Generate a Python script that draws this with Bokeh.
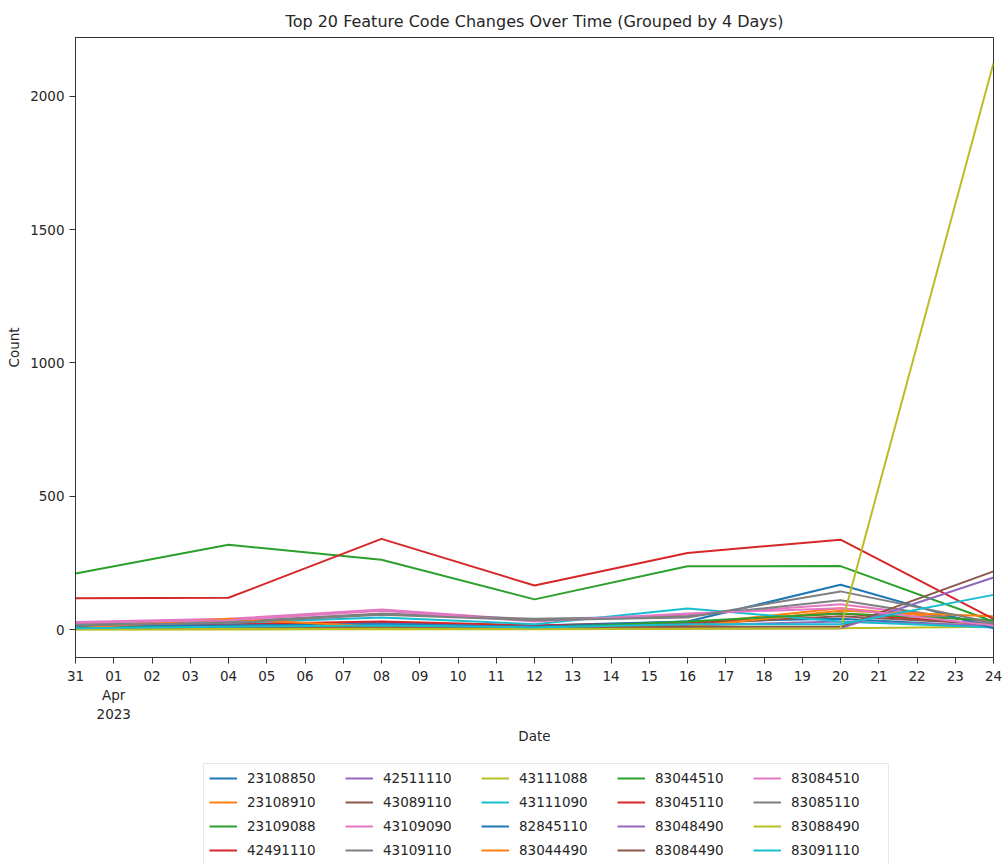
import pandas as pd
from bokeh.plotting import figure
from bokeh.layouts import column
from bokeh.models import Legend, LegendItem, FixedTicker, Range1d
from bokeh.embed import file_html
from bokeh.resources import INLINE

dates = ["2023-03-31", "2023-04-04", "2023-04-08", "2023-04-12", "2023-04-16", "2023-04-20", "2023-04-24"]

codes = ["23108850", "23108910", "23109088", "42491110", "42511110",
         "43089110", "43109090", "43109110", "43111088", "43111090",
         "82845110", "83044490", "83044510", "83045110", "83048490",
         "83084490", "83084510", "83085110", "83088490", "83091110"]

s23108850 = [15, 20, 25, 15, 30, 40, 10]
s23108910 = [10, 25, 15, 10, 20, 80, 30]
s23109088 = [210, 318, 262, 113, 237, 238, 30]
s42491110 = [20, 20, 30, 15, 25, 60, 20]
s42511110 = [10, 15, 20, 10, 15, 30, 15]
s43089110 = [5, 10, 15, 10, 20, 50, 20]
s43109090 = [28, 40, 75, 35, 55, 95, 25]
s43109110 = [20, 30, 60, 40, 50, 110, 20]
s43111088 = [0, 0, 2, 1, 3, 5, 10]
s43111090 = [15, 25, 45, 20, 79, 30, 8]
s82845110 = [10, 15, 20, 10, 30, 168, 5]
s83044490 = [5, 40, 10, 5, 10, 70, 50]
s83044510 = [5, 10, 10, 5, 30, 60, 35]
s83045110 = [117, 119, 340, 165, 287, 337, 40]
s83048490 = [2, 5, 8, 3, 5, 5, 195]
s83084490 = [3, 5, 10, 5, 10, 10, 218]
s83084510 = [25, 35, 70, 30, 60, 80, 15]
s83085110 = [15, 25, 55, 35, 45, 143, 25]
s83088490 = [1, 2, 3, 2, 3, 5, 2125]
s83091110 = [5, 10, 15, 8, 20, 20, 130]

series = [s23108850, s23108910, s23109088, s42491110, s42511110,
          s43089110, s43109090, s43109110, s43111088, s43111090,
          s82845110, s83044490, s83044510, s83045110, s83048490,
          s83084490, s83084510, s83085110, s83088490, s83091110]

y_ticks = [0, 500, 1000, 1500, 2000]

tab10 = ["#1f77b4", "#ff7f0e", "#2ca02c", "#d62728", "#9467bd",
         "#8c564b", "#e377c2", "#7f7f7f", "#bcbd22", "#17becf"]

FONT = "DejaVu Sans"
TXT = "#262626"
AX = "#333333"

x = pd.to_datetime(dates)
tick_dates = pd.date_range("2023-03-31", "2023-04-24", freq="D")
tick_ms = [float(t.value // 10**6) for t in tick_dates]
tick_labels = [t.strftime("%d") for t in tick_dates]
tick_labels[1] = "01\nApr\n2023"

# ---------------- main chart ----------------
p = figure(width=1003, height=752, x_axis_type="datetime",
           output_backend="svg", toolbar_location=None,
           min_border_left=75, min_border_right=10, min_border_top=37,
           min_border_bottom=95)

p.x_range = Range1d(x[0], x[-1])
p.y_range = Range1d(-105, 2221)

for i, vals in enumerate(series):
    p.line(x, vals, line_color=tab10[i % 10], line_width=2)

p.title.text = "Top 20 Feature Code Changes Over Time (Grouped by 4 Days)"
p.title.align = "center"
p.title.text_font = FONT
p.title.text_font_size = "16px"
p.title.text_font_style = "normal"
p.title.text_color = TXT
p.title.standoff = 13

p.xgrid.visible = False
p.ygrid.visible = False
p.outline_line_color = AX
p.outline_line_width = 1

p.xaxis.ticker = FixedTicker(ticks=tick_ms)
p.xaxis.major_label_overrides = {tm: lab for tm, lab in zip(tick_ms, tick_labels)}
p.xaxis.axis_label = "Date"
p.yaxis.ticker = FixedTicker(ticks=y_ticks)
p.yaxis.axis_label = "Count"

for ax in (p.xaxis[0], p.yaxis[0]):
    ax.axis_label_text_font = FONT
    ax.axis_label_text_font_size = "13.5px"
    ax.axis_label_text_font_style = "normal"
    ax.axis_label_text_color = TXT
    ax.major_label_text_font = FONT
    ax.major_label_text_font_size = "13.5px"
    ax.major_label_text_color = TXT
    ax.axis_line_color = AX
    ax.major_tick_line_color = AX
    ax.major_tick_out = 6
    ax.major_tick_in = 0
    ax.minor_tick_line_color = None

p.xaxis.major_label_standoff = 4
p.xaxis.axis_label_standoff = 3
p.yaxis.major_label_standoff = 5
p.yaxis.axis_label_standoff = 5

# ---------------- legend strip ----------------
lg = figure(width=1003, height=112, output_backend="svg", toolbar_location=None,
            x_range=(0, 1), y_range=(0, 1),
            x_axis_location=None, y_axis_location=None,
            min_border_left=0, min_border_right=0, min_border_top=0, min_border_bottom=0)
lg.xgrid.visible = False
lg.ygrid.visible = False
lg.outline_line_color = None

nan = float("nan")
keys = []
for i, code in enumerate(codes):
    r = lg.line([nan, nan], [nan, nan], line_color=tab10[i % 10], line_width=2)
    keys.append(LegendItem(label=code, renderers=[r]))

legend = Legend(items=keys, nrows=4, orientation="vertical", location=(128, -1),
                label_text_font=FONT, label_text_font_size="13.5px",
                label_text_color=TXT,
                glyph_width=28, glyph_height=18, label_width=92, label_height=18,
                label_standoff=10, spacing=6, padding=5, margin=0,
                border_line_color="#d0d0d0", border_line_width=1,
                background_fill_color="white")
lg.add_layout(legend)

layout = column(p, lg, spacing=0)
open("out.html", "w").write(file_html(layout, INLINE))
